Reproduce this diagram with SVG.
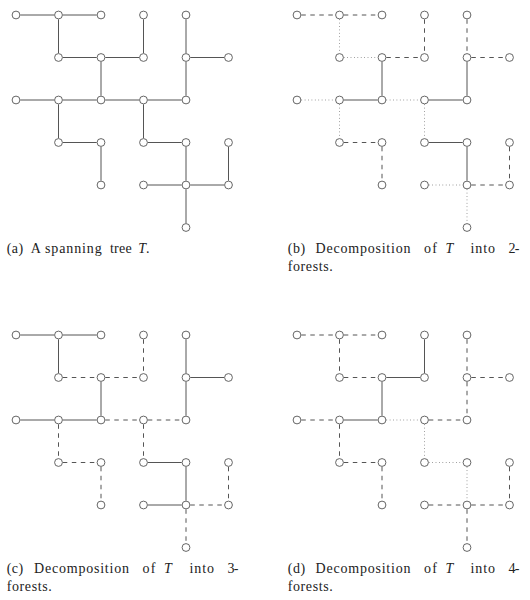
<svg xmlns="http://www.w3.org/2000/svg" width="530" height="600" viewBox="0 0 530 600">
<style>
.n{fill:#fff;stroke:#555;stroke-width:0.9}
.s{stroke:#555;stroke-width:1;fill:none}
.d{stroke:#555;stroke-width:1;fill:none;stroke-dasharray:4.5 4.5}
.o{stroke:#8a8a8a;stroke-width:1;fill:none;stroke-dasharray:0.8 2.6}
.cap{font-family:"Liberation Serif","Times New Roman",serif;font-size:14px;fill:#222}
.it{font-style:italic}
</style>
<rect width="530" height="600" fill="#fff"/>

<!-- Panel (a) -->
<g id="panel-a">
<g id="connectors-a">
<line class="s" x1="20.3" y1="15" x2="54.2" y2="15"/>
<line class="s" x1="62.8" y1="15" x2="96.7" y2="15"/>
<line class="s" x1="58.5" y1="19.3" x2="58.5" y2="53.2"/>
<line class="s" x1="143.5" y1="19.3" x2="143.5" y2="53.2"/>
<line class="s" x1="186" y1="19.3" x2="186" y2="53.2"/>
<line class="s" x1="62.8" y1="57.5" x2="96.7" y2="57.5"/>
<line class="s" x1="105.3" y1="57.5" x2="139.2" y2="57.5"/>
<line class="s" x1="101" y1="61.8" x2="101" y2="95.7"/>
<line class="s" x1="190.3" y1="57.5" x2="224.2" y2="57.5"/>
<line class="s" x1="186" y1="61.8" x2="186" y2="95.7"/>
<line class="s" x1="20.3" y1="100" x2="54.2" y2="100"/>
<line class="s" x1="62.8" y1="100" x2="96.7" y2="100"/>
<line class="s" x1="105.3" y1="100" x2="139.2" y2="100"/>
<line class="s" x1="147.8" y1="100" x2="181.7" y2="100"/>
<line class="s" x1="58.5" y1="104.3" x2="58.5" y2="138.2"/>
<line class="s" x1="62.8" y1="142.5" x2="96.7" y2="142.5"/>
<line class="s" x1="101" y1="146.8" x2="101" y2="180.7"/>
<line class="s" x1="143.5" y1="104.3" x2="143.5" y2="138.2"/>
<line class="s" x1="147.8" y1="142.5" x2="181.7" y2="142.5"/>
<line class="s" x1="186" y1="146.8" x2="186" y2="180.7"/>
<line class="s" x1="228.5" y1="146.8" x2="228.5" y2="180.7"/>
<line class="s" x1="147.8" y1="185" x2="181.7" y2="185"/>
<line class="s" x1="190.3" y1="185" x2="224.2" y2="185"/>
<line class="s" x1="186" y1="189.3" x2="186" y2="223.2"/>
</g>
<g id="a-n00"><circle class="n" cx="16" cy="15" r="3.9"/></g>
<g id="a-n10"><circle class="n" cx="58.5" cy="15" r="3.9"/></g>
<g id="a-n20"><circle class="n" cx="101" cy="15" r="3.9"/></g>
<g id="a-n30"><circle class="n" cx="143.5" cy="15" r="3.9"/></g>
<g id="a-n40"><circle class="n" cx="186" cy="15" r="3.9"/></g>
<g id="a-n11"><circle class="n" cx="58.5" cy="57.5" r="3.9"/></g>
<g id="a-n21"><circle class="n" cx="101" cy="57.5" r="3.9"/></g>
<g id="a-n31"><circle class="n" cx="143.5" cy="57.5" r="3.9"/></g>
<g id="a-n41"><circle class="n" cx="186" cy="57.5" r="3.9"/></g>
<g id="a-n51"><circle class="n" cx="228.5" cy="57.5" r="3.9"/></g>
<g id="a-n02"><circle class="n" cx="16" cy="100" r="3.9"/></g>
<g id="a-n12"><circle class="n" cx="58.5" cy="100" r="3.9"/></g>
<g id="a-n22"><circle class="n" cx="101" cy="100" r="3.9"/></g>
<g id="a-n32"><circle class="n" cx="143.5" cy="100" r="3.9"/></g>
<g id="a-n42"><circle class="n" cx="186" cy="100" r="3.9"/></g>
<g id="a-n13"><circle class="n" cx="58.5" cy="142.5" r="3.9"/></g>
<g id="a-n23"><circle class="n" cx="101" cy="142.5" r="3.9"/></g>
<g id="a-n33"><circle class="n" cx="143.5" cy="142.5" r="3.9"/></g>
<g id="a-n43"><circle class="n" cx="186" cy="142.5" r="3.9"/></g>
<g id="a-n53"><circle class="n" cx="228.5" cy="142.5" r="3.9"/></g>
<g id="a-n24"><circle class="n" cx="101" cy="185" r="3.9"/></g>
<g id="a-n34"><circle class="n" cx="143.5" cy="185" r="3.9"/></g>
<g id="a-n44"><circle class="n" cx="186" cy="185" r="3.9"/></g>
<g id="a-n54"><circle class="n" cx="228.5" cy="185" r="3.9"/></g>
<g id="a-n45"><circle class="n" cx="186" cy="227.5" r="3.9"/></g>
</g>

<!-- Panel (b) -->
<g id="panel-b" transform="translate(281,0)">
<g id="connectors-b">
<line class="d" x1="20.3" y1="15" x2="54.2" y2="15"/>
<line class="d" x1="62.8" y1="15" x2="96.7" y2="15"/>
<line class="o" x1="58.5" y1="19.3" x2="58.5" y2="53.2"/>
<line class="d" x1="143.5" y1="19.3" x2="143.5" y2="53.2"/>
<line class="d" x1="186" y1="19.3" x2="186" y2="53.2"/>
<line class="o" x1="62.8" y1="57.5" x2="96.7" y2="57.5"/>
<line class="d" x1="105.3" y1="57.5" x2="139.2" y2="57.5"/>
<line class="s" x1="101" y1="61.8" x2="101" y2="95.7"/>
<line class="d" x1="190.3" y1="57.5" x2="224.2" y2="57.5"/>
<line class="s" x1="186" y1="61.8" x2="186" y2="95.7"/>
<line class="o" x1="20.3" y1="100" x2="54.2" y2="100"/>
<line class="s" x1="62.8" y1="100" x2="96.7" y2="100"/>
<line class="o" x1="105.3" y1="100" x2="139.2" y2="100"/>
<line class="s" x1="147.8" y1="100" x2="181.7" y2="100"/>
<line class="o" x1="58.5" y1="104.3" x2="58.5" y2="138.2"/>
<line class="d" x1="62.8" y1="142.5" x2="96.7" y2="142.5"/>
<line class="d" x1="101" y1="146.8" x2="101" y2="180.7"/>
<line class="o" x1="143.5" y1="104.3" x2="143.5" y2="138.2"/>
<line class="s" x1="147.8" y1="142.5" x2="181.7" y2="142.5"/>
<line class="s" x1="186" y1="146.8" x2="186" y2="180.7"/>
<line class="d" x1="228.5" y1="146.8" x2="228.5" y2="180.7"/>
<line class="o" x1="147.8" y1="185" x2="181.7" y2="185"/>
<line class="d" x1="190.3" y1="185" x2="224.2" y2="185"/>
<line class="o" x1="186" y1="189.3" x2="186" y2="223.2"/>
</g>
<g id="b-n00"><circle class="n" cx="16" cy="15" r="3.9"/></g>
<g id="b-n10"><circle class="n" cx="58.5" cy="15" r="3.9"/></g>
<g id="b-n20"><circle class="n" cx="101" cy="15" r="3.9"/></g>
<g id="b-n30"><circle class="n" cx="143.5" cy="15" r="3.9"/></g>
<g id="b-n40"><circle class="n" cx="186" cy="15" r="3.9"/></g>
<g id="b-n11"><circle class="n" cx="58.5" cy="57.5" r="3.9"/></g>
<g id="b-n21"><circle class="n" cx="101" cy="57.5" r="3.9"/></g>
<g id="b-n31"><circle class="n" cx="143.5" cy="57.5" r="3.9"/></g>
<g id="b-n41"><circle class="n" cx="186" cy="57.5" r="3.9"/></g>
<g id="b-n51"><circle class="n" cx="228.5" cy="57.5" r="3.9"/></g>
<g id="b-n02"><circle class="n" cx="16" cy="100" r="3.9"/></g>
<g id="b-n12"><circle class="n" cx="58.5" cy="100" r="3.9"/></g>
<g id="b-n22"><circle class="n" cx="101" cy="100" r="3.9"/></g>
<g id="b-n32"><circle class="n" cx="143.5" cy="100" r="3.9"/></g>
<g id="b-n42"><circle class="n" cx="186" cy="100" r="3.9"/></g>
<g id="b-n13"><circle class="n" cx="58.5" cy="142.5" r="3.9"/></g>
<g id="b-n23"><circle class="n" cx="101" cy="142.5" r="3.9"/></g>
<g id="b-n33"><circle class="n" cx="143.5" cy="142.5" r="3.9"/></g>
<g id="b-n43"><circle class="n" cx="186" cy="142.5" r="3.9"/></g>
<g id="b-n53"><circle class="n" cx="228.5" cy="142.5" r="3.9"/></g>
<g id="b-n24"><circle class="n" cx="101" cy="185" r="3.9"/></g>
<g id="b-n34"><circle class="n" cx="143.5" cy="185" r="3.9"/></g>
<g id="b-n44"><circle class="n" cx="186" cy="185" r="3.9"/></g>
<g id="b-n54"><circle class="n" cx="228.5" cy="185" r="3.9"/></g>
<g id="b-n45"><circle class="n" cx="186" cy="227.5" r="3.9"/></g>
</g>

<!-- Panel (c) -->
<g id="panel-c" transform="translate(0,320)">
<g id="connectors-c">
<line class="s" x1="20.3" y1="15" x2="54.2" y2="15"/>
<line class="s" x1="62.8" y1="15" x2="96.7" y2="15"/>
<line class="s" x1="58.5" y1="19.3" x2="58.5" y2="53.2"/>
<line class="d" x1="143.5" y1="19.3" x2="143.5" y2="53.2"/>
<line class="s" x1="186" y1="19.3" x2="186" y2="53.2"/>
<line class="d" x1="62.8" y1="57.5" x2="96.7" y2="57.5"/>
<line class="d" x1="105.3" y1="57.5" x2="139.2" y2="57.5"/>
<line class="s" x1="101" y1="61.8" x2="101" y2="95.7"/>
<line class="s" x1="190.3" y1="57.5" x2="224.2" y2="57.5"/>
<line class="s" x1="186" y1="61.8" x2="186" y2="95.7"/>
<line class="s" x1="20.3" y1="100" x2="54.2" y2="100"/>
<line class="s" x1="62.8" y1="100" x2="96.7" y2="100"/>
<line class="d" x1="105.3" y1="100" x2="139.2" y2="100"/>
<line class="d" x1="147.8" y1="100" x2="181.7" y2="100"/>
<line class="d" x1="58.5" y1="104.3" x2="58.5" y2="138.2"/>
<line class="d" x1="62.8" y1="142.5" x2="96.7" y2="142.5"/>
<line class="d" x1="101" y1="146.8" x2="101" y2="180.7"/>
<line class="d" x1="143.5" y1="104.3" x2="143.5" y2="138.2"/>
<line class="s" x1="147.8" y1="142.5" x2="181.7" y2="142.5"/>
<line class="s" x1="186" y1="146.8" x2="186" y2="180.7"/>
<line class="d" x1="228.5" y1="146.8" x2="228.5" y2="180.7"/>
<line class="s" x1="147.8" y1="185" x2="181.7" y2="185"/>
<line class="d" x1="190.3" y1="185" x2="224.2" y2="185"/>
<line class="d" x1="186" y1="189.3" x2="186" y2="223.2"/>
</g>
<g id="c-n00"><circle class="n" cx="16" cy="15" r="3.9"/></g>
<g id="c-n10"><circle class="n" cx="58.5" cy="15" r="3.9"/></g>
<g id="c-n20"><circle class="n" cx="101" cy="15" r="3.9"/></g>
<g id="c-n30"><circle class="n" cx="143.5" cy="15" r="3.9"/></g>
<g id="c-n40"><circle class="n" cx="186" cy="15" r="3.9"/></g>
<g id="c-n11"><circle class="n" cx="58.5" cy="57.5" r="3.9"/></g>
<g id="c-n21"><circle class="n" cx="101" cy="57.5" r="3.9"/></g>
<g id="c-n31"><circle class="n" cx="143.5" cy="57.5" r="3.9"/></g>
<g id="c-n41"><circle class="n" cx="186" cy="57.5" r="3.9"/></g>
<g id="c-n51"><circle class="n" cx="228.5" cy="57.5" r="3.9"/></g>
<g id="c-n02"><circle class="n" cx="16" cy="100" r="3.9"/></g>
<g id="c-n12"><circle class="n" cx="58.5" cy="100" r="3.9"/></g>
<g id="c-n22"><circle class="n" cx="101" cy="100" r="3.9"/></g>
<g id="c-n32"><circle class="n" cx="143.5" cy="100" r="3.9"/></g>
<g id="c-n42"><circle class="n" cx="186" cy="100" r="3.9"/></g>
<g id="c-n13"><circle class="n" cx="58.5" cy="142.5" r="3.9"/></g>
<g id="c-n23"><circle class="n" cx="101" cy="142.5" r="3.9"/></g>
<g id="c-n33"><circle class="n" cx="143.5" cy="142.5" r="3.9"/></g>
<g id="c-n43"><circle class="n" cx="186" cy="142.5" r="3.9"/></g>
<g id="c-n53"><circle class="n" cx="228.5" cy="142.5" r="3.9"/></g>
<g id="c-n24"><circle class="n" cx="101" cy="185" r="3.9"/></g>
<g id="c-n34"><circle class="n" cx="143.5" cy="185" r="3.9"/></g>
<g id="c-n44"><circle class="n" cx="186" cy="185" r="3.9"/></g>
<g id="c-n54"><circle class="n" cx="228.5" cy="185" r="3.9"/></g>
<g id="c-n45"><circle class="n" cx="186" cy="227.5" r="3.9"/></g>
</g>

<!-- Panel (d) -->
<g id="panel-d" transform="translate(281,320)">
<g id="connectors-d">
<line class="d" x1="20.3" y1="15" x2="54.2" y2="15"/>
<line class="d" x1="62.8" y1="15" x2="96.7" y2="15"/>
<line class="d" x1="58.5" y1="19.3" x2="58.5" y2="53.2"/>
<line class="s" x1="143.5" y1="19.3" x2="143.5" y2="53.2"/>
<line class="d" x1="186" y1="19.3" x2="186" y2="53.2"/>
<line class="d" x1="62.8" y1="57.5" x2="96.7" y2="57.5"/>
<line class="s" x1="105.3" y1="57.5" x2="139.2" y2="57.5"/>
<line class="s" x1="101" y1="61.8" x2="101" y2="95.7"/>
<line class="d" x1="190.3" y1="57.5" x2="224.2" y2="57.5"/>
<line class="d" x1="186" y1="61.8" x2="186" y2="95.7"/>
<line class="d" x1="20.3" y1="100" x2="54.2" y2="100"/>
<line class="s" x1="62.8" y1="100" x2="96.7" y2="100"/>
<line class="o" x1="105.3" y1="100" x2="139.2" y2="100"/>
<line class="d" x1="147.8" y1="100" x2="181.7" y2="100"/>
<line class="d" x1="58.5" y1="104.3" x2="58.5" y2="138.2"/>
<line class="d" x1="62.8" y1="142.5" x2="96.7" y2="142.5"/>
<line class="d" x1="101" y1="146.8" x2="101" y2="180.7"/>
<line class="o" x1="143.5" y1="104.3" x2="143.5" y2="138.2"/>
<line class="o" x1="147.8" y1="142.5" x2="181.7" y2="142.5"/>
<line class="o" x1="186" y1="146.8" x2="186" y2="180.7"/>
<line class="d" x1="228.5" y1="146.8" x2="228.5" y2="180.7"/>
<line class="d" x1="147.8" y1="185" x2="181.7" y2="185"/>
<line class="d" x1="190.3" y1="185" x2="224.2" y2="185"/>
<line class="d" x1="186" y1="189.3" x2="186" y2="223.2"/>
</g>
<g id="d-n00"><circle class="n" cx="16" cy="15" r="3.9"/></g>
<g id="d-n10"><circle class="n" cx="58.5" cy="15" r="3.9"/></g>
<g id="d-n20"><circle class="n" cx="101" cy="15" r="3.9"/></g>
<g id="d-n30"><circle class="n" cx="143.5" cy="15" r="3.9"/></g>
<g id="d-n40"><circle class="n" cx="186" cy="15" r="3.9"/></g>
<g id="d-n11"><circle class="n" cx="58.5" cy="57.5" r="3.9"/></g>
<g id="d-n21"><circle class="n" cx="101" cy="57.5" r="3.9"/></g>
<g id="d-n31"><circle class="n" cx="143.5" cy="57.5" r="3.9"/></g>
<g id="d-n41"><circle class="n" cx="186" cy="57.5" r="3.9"/></g>
<g id="d-n51"><circle class="n" cx="228.5" cy="57.5" r="3.9"/></g>
<g id="d-n02"><circle class="n" cx="16" cy="100" r="3.9"/></g>
<g id="d-n12"><circle class="n" cx="58.5" cy="100" r="3.9"/></g>
<g id="d-n22"><circle class="n" cx="101" cy="100" r="3.9"/></g>
<g id="d-n32"><circle class="n" cx="143.5" cy="100" r="3.9"/></g>
<g id="d-n42"><circle class="n" cx="186" cy="100" r="3.9"/></g>
<g id="d-n13"><circle class="n" cx="58.5" cy="142.5" r="3.9"/></g>
<g id="d-n23"><circle class="n" cx="101" cy="142.5" r="3.9"/></g>
<g id="d-n33"><circle class="n" cx="143.5" cy="142.5" r="3.9"/></g>
<g id="d-n43"><circle class="n" cx="186" cy="142.5" r="3.9"/></g>
<g id="d-n53"><circle class="n" cx="228.5" cy="142.5" r="3.9"/></g>
<g id="d-n24"><circle class="n" cx="101" cy="185" r="3.9"/></g>
<g id="d-n34"><circle class="n" cx="143.5" cy="185" r="3.9"/></g>
<g id="d-n44"><circle class="n" cx="186" cy="185" r="3.9"/></g>
<g id="d-n54"><circle class="n" cx="228.5" cy="185" r="3.9"/></g>
<g id="d-n45"><circle class="n" cx="186" cy="227.5" r="3.9"/></g>
</g>

<!-- Captions -->
<g id="captions">
<text class="cap" y="253.3"><tspan x="6.7" textLength="16.5">(a)</tspan><tspan x="30.7">A</tspan><tspan x="45" textLength="56.7">spanning</tspan><tspan x="110" textLength="21.7">tree</tspan><tspan x="138.3" class="it">T</tspan>.</text>
<text class="cap" y="253.3"><tspan x="287.7" textLength="17.5">(b)</tspan><tspan x="315.5" textLength="95">Decomposition</tspan><tspan x="424" textLength="13">of</tspan><tspan x="445.5" class="it">T</tspan><tspan x="470.5" textLength="24.5">into</tspan><tspan x="508.5" textLength="11">2-</tspan></text>
<text class="cap" x="287.7" y="271" textLength="45">forests.</text>
<text class="cap" y="573.3"><tspan x="6.7" textLength="16.5">(c)</tspan><tspan x="34" textLength="95">Decomposition</tspan><tspan x="142.5" textLength="13">of</tspan><tspan x="164" class="it">T</tspan><tspan x="189.5" textLength="24.5">into</tspan><tspan x="227.5" textLength="11">3-</tspan></text>
<text class="cap" x="6.7" y="591" textLength="45">forests.</text>
<text class="cap" y="573.3"><tspan x="287.7" textLength="17.5">(d)</tspan><tspan x="315.5" textLength="95">Decomposition</tspan><tspan x="424" textLength="13">of</tspan><tspan x="445.5" class="it">T</tspan><tspan x="470.5" textLength="24.5">into</tspan><tspan x="508.5" textLength="11">4-</tspan></text>
<text class="cap" x="287.7" y="591" textLength="45">forests.</text>
</g>
</svg>
